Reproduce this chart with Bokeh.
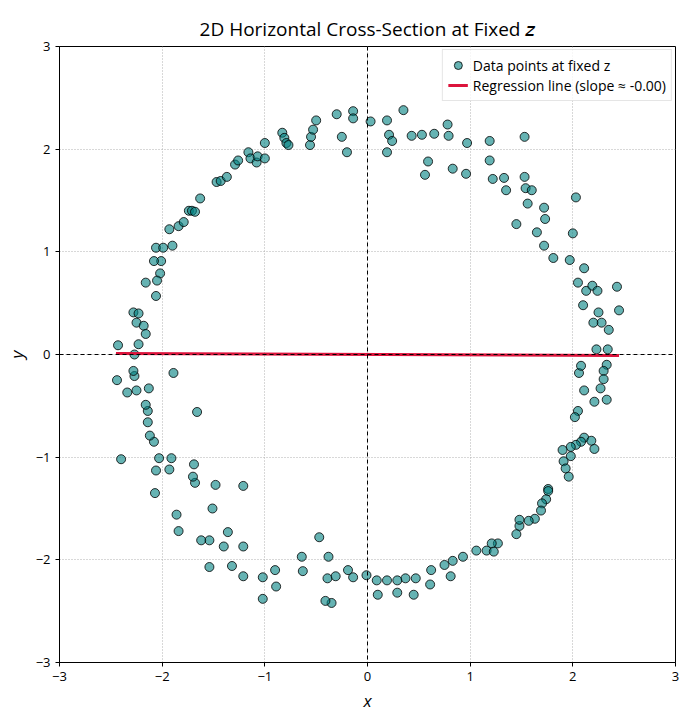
import numpy as np
from bokeh.plotting import figure
from bokeh.models import Span, FixedTicker, Title
from bokeh.embed import file_html
from bokeh.resources import INLINE

xs = [-0.50,-0.30,-0.14,-0.14,0.03,0.19,0.19,0.21,0.24,0.43,0.53,0.65,0.78,0.79,0.97,1.19,1.53,
      0.59,0.56,0.83,0.96,1.19,1.22,1.33,1.35,1.53,1.54,1.56,1.45,1.60,1.72,1.73,1.65,1.72,1.81,
      2.00,2.03,1.97,2.13,2.11,2.05,2.10,2.19,2.24,2.25,2.28,2.35,2.20,2.34,2.23,2.33,2.30,2.43,2.45,
      2.30,2.27,2.33,2.21,2.11,2.06,2.08,2.05,2.02,2.11,2.18,2.21,2.08,2.03,1.98,1.98,1.91,1.93,1.96,1.90,
      1.76,1.76,1.74,1.70,1.69,1.63,1.57,1.48,1.48,1.45,1.27,1.21,1.16,1.23,1.06,0.93,0.83,0.75,0.81,
      0.62,0.61,0.47,0.37,0.29,0.19,0.09,-0.01,0.10,0.29,0.45,-0.14,-0.39,-0.31,-0.35,-0.41,-0.19,
      -0.38,-0.64,-0.63,-0.47,-0.89,-1.02,-0.90,-1.21,-1.21,-1.32,-1.02,-1.40,-1.54,-1.54,-1.36,-1.51,
      -1.62,-1.48,-1.68,-1.70,-1.86,-1.84,-1.91,-2.06,-1.69,-1.93,-2.07,-2.03,-2.08,-2.12,-2.14,-2.14,
      -2.16,-2.13,-2.25,-2.34,-2.27,-2.28,-2.40,-2.44,-1.89,-1.66,-1.21,-2.27,-2.23,-2.43,-2.28,-2.23,
      -2.25,-2.18,-2.16,-2.16,-2.06,-2.02,-2.05,-2.01,-2.06,-1.99,-2.08,-1.90,-1.93,-1.84,-1.79,-1.74,
      -1.71,-1.68,-1.63,-1.47,-1.43,-1.37,-1.29,-1.26,-1.16,-1.14,-1.08,-1.07,-1.00,-1.00,-0.83,-0.81,
      -0.79,-0.77,-0.56,-0.55,-0.53,-0.25,-0.20,0.35]
ys = [2.28,2.34,2.37,2.30,2.27,2.28,1.97,2.14,2.08,2.13,2.14,2.15,2.24,2.13,2.06,2.08,2.12,
      1.88,1.75,1.81,1.76,1.89,1.71,1.72,1.60,1.73,1.62,1.47,1.27,1.60,1.43,1.32,1.19,1.06,0.94,
      1.18,1.53,0.92,0.62,0.84,0.70,0.48,0.67,0.62,0.41,0.31,0.24,0.31,0.05,0.05,-0.10,-0.16,0.66,0.43,
      -0.24,-0.33,-0.44,-0.46,-0.35,-0.18,-0.11,-0.55,-0.61,-0.81,-0.84,-0.92,-0.85,-0.88,-0.90,-0.99,-1.04,-1.11,-1.19,-0.93,
      -1.31,-1.33,-1.41,-1.45,-1.52,-1.60,-1.62,-1.67,-1.61,-1.75,-1.84,-1.84,-1.91,-1.92,-1.91,-1.97,-2.01,-2.05,-2.16,
      -2.10,-2.24,-2.18,-2.18,-2.20,-2.20,-2.20,-2.15,-2.34,-2.32,-2.34,-2.17,-2.18,-2.16,-2.42,-2.40,-2.10,
      -1.97,-1.97,-2.11,-1.78,-2.26,-2.38,-2.10,-1.87,-2.16,-2.06,-2.17,-1.87,-2.07,-1.81,-1.73,-1.50,
      -1.81,-1.27,-1.25,-1.19,-1.56,-1.72,-1.01,-1.13,-1.07,-1.12,-1.35,-1.01,-0.85,-0.79,-0.66,-0.55,
      -0.49,-0.33,-0.35,-0.37,-0.21,-0.16,-1.02,-0.25,-0.18,-0.56,-1.28,0.00,0.10,0.09,0.41,0.40,
      0.31,0.28,0.20,0.70,0.57,0.79,0.72,0.91,1.04,1.04,0.91,1.06,1.22,1.25,1.29,1.40,
      1.40,1.39,1.52,1.68,1.69,1.73,1.85,1.89,1.97,1.91,1.87,1.93,2.06,1.91,2.16,2.11,
      2.06,2.04,2.04,2.12,2.19,2.12,1.97,2.38]

# regression as shown in the reference
reg_slope = -0.004
reg_intercept = 0.0
reg_x = [-2.45, 2.45]
reg_label = "Regression line (slope ≈ -0.00)"

x = np.array(xs); y = np.array(ys)
lx = np.array(reg_x)
ly = reg_slope * lx + reg_intercept

FONT = "Open Sans"
p = figure(frame_width=616, frame_height=616, min_border_left=59, min_border_top=46,
           min_border_right=10, min_border_bottom=44,
           x_range=(-3, 3), y_range=(-3, 3), output_backend="svg", toolbar_location=None)
p.title = Title(text="2D Horizontal Cross-Section at Fixed 𝑧", align="center",
                text_font=FONT, text_font_size="19px", text_font_style="normal",
                text_color="black", offset=0)

p.scatter(x, y, size=9, fill_color="teal", fill_alpha=0.6, line_color="black", line_alpha=0.8,
          legend_label="Data points at fixed z")
p.line(lx, ly, line_color="crimson", line_width=3, legend_label=reg_label)

for dim in ("width", "height"):
    p.add_layout(Span(location=0, dimension=dim, line_color="black", line_dash="4 3", line_width=1))

for ax in (p.xaxis, p.yaxis):
    ax.ticker = FixedTicker(ticks=[-3, -2, -1, 0, 1, 2, 3])
    ax.major_label_text_font = FONT
    ax.major_label_text_font_size = "13px"
    ax.major_label_text_color = "black"
    ax.axis_label_text_font = FONT
    ax.axis_label_text_font_size = "17px"
    ax.axis_label_text_font_style = "italic"
    ax.axis_label_text_color = "black"
    ax.minor_tick_line_color = None
    ax.major_tick_in = 0
    ax.major_tick_out = 4
    ax.axis_line_color = "black"
    ax.major_tick_line_color = "black"
p.xaxis.axis_label = "x"
p.yaxis.axis_label = "y"
p.xgrid.grid_line_dash = "1 2"; p.ygrid.grid_line_dash = "1 2"
p.xgrid.grid_line_color = "#b0b0b0"; p.ygrid.grid_line_color = "#b0b0b0"
p.outline_line_color = "black"; p.outline_line_alpha = 1

p.legend.location = "top_right"
p.legend.label_text_font = FONT
p.legend.label_text_font_size = "14px"
p.legend.label_text_color = "black"
p.legend.border_line_color = "#cccccc"
p.legend.background_fill_alpha = 0.8
p.legend.spacing = 0
p.legend.padding = 5
p.legend.margin = 3

open("out.html", "w").write(file_html(p, INLINE))
